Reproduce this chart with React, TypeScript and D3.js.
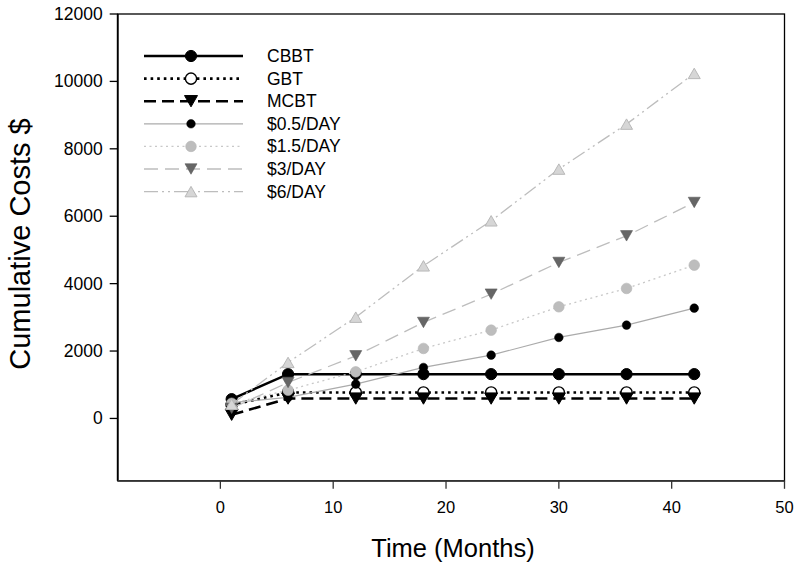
import React from "react";
import * as d3 from "d3";

const months = [1, 6, 12, 18, 24, 30, 36, 42];
const cbbt = [573, 1315, 1315, 1315, 1315, 1315, 1315, 1315];
const gbt = [400, 771, 771, 771, 771, 771, 771, 771];
const mcbt = [110, 590, 590, 590, 590, 590, 590, 590];
const day05 = [470, 623, 1018, 1513, 1878, 2403, 2769, 3273];
const day15 = [450, 840, 1383, 2077, 2620, 3312, 3857, 4549];
const day3 = [300, 1068, 1858, 2849, 3688, 4629, 5418, 6409];
const day6 = [420, 1662, 3005, 4528, 5864, 7398, 8733, 10237];
const xTicks = [0, 10, 20, 30, 40, 50];
const yTicks = [0, 2000, 4000, 6000, 8000, 10000, 12000];
const seriesNames = ["CBBT", "GBT", "MCBT", "$0.5/DAY", "$1.5/DAY", "$3/DAY", "$6/DAY"];
const seriesValues = [cbbt, gbt, mcbt, day05, day15, day3, day6];

type Style = {
  stroke: string; width: number; dash: string | null;
  shape: "circle" | "down" | "up"; size: number; fill: string; mstroke: string; mwidth: number;
};
const styles: Style[] = [
  { stroke: "#000", width: 2.5, dash: null, shape: "circle", size: 5.6, fill: "#000", mstroke: "#000", mwidth: 1 },
  { stroke: "#000", width: 2.6, dash: "2.6,4", shape: "circle", size: 5.6, fill: "#fff", mstroke: "#000", mwidth: 1.4 },
  { stroke: "#000", width: 2.6, dash: "12,6", shape: "down", size: 13, fill: "#000", mstroke: "#000", mwidth: 1 },
  { stroke: "#ababab", width: 1.2, dash: null, shape: "circle", size: 4.3, fill: "#000", mstroke: "#000", mwidth: 0.5 },
  { stroke: "#c8c8c8", width: 1.3, dash: "2,3.5", shape: "circle", size: 5.3, fill: "#bdbdbd", mstroke: "#b5b5b5", mwidth: 0.6 },
  { stroke: "#bdbdbd", width: 1.3, dash: "14,7", shape: "down", size: 12, fill: "#666", mstroke: "#5a5a5a", mwidth: 0.6 },
  { stroke: "#bdbdbd", width: 1.3, dash: "14,4,2,4,2,4", shape: "up", size: 12, fill: "#d6d6d6", mstroke: "#b8b8b8", mwidth: 1 },
];

const W = 800, H = 567;
const L = 117.7, R = 784.5, T = 14, B = 480.8;

function Marker({ s, x, y }: { s: Style; x: number; y: number }) {
  if (s.shape === "circle") {
    return <circle cx={x} cy={y} r={s.size} fill={s.fill} stroke={s.mstroke} strokeWidth={s.mwidth} />;
  }
  const h = s.size * 0.87;
  const w = s.size / 2;
  const path = s.shape === "down"
    ? `M${x - w},${y - h / 2}L${x + w},${y - h / 2}L${x},${y + h / 2}Z`
    : `M${x - w},${y + h / 2}L${x + w},${y + h / 2}L${x},${y - h / 2}Z`;
  return <path d={path} fill={s.fill} stroke={s.mstroke} strokeWidth={s.mwidth} strokeLinejoin="round" />;
}

export default function App() {
  const x = d3.scaleLinear().domain([-9.1, 50]).range([L, R]);
  const y = d3.scaleLinear().domain([-1850, 12000]).range([B, T]);
  const line = d3.line<[number, number]>().x((d) => x(d[0])).y((d) => y(d[1]));
  const font = "Arial, 'Liberation Sans', Helvetica, sans-serif";

  return (
    <svg width={W} height={H} style={{ position: "absolute", left: 0, top: 0, background: "#fff" }} fontFamily={font}>
      <rect x={0} y={0} width={W} height={H} fill="#fff" />
      {/* frame */}
      <rect x={L} y={T} width={R - L} height={B - T} fill="none" stroke="#000" strokeWidth={1.3} />
      <line x1={L} x2={L} y1={T} y2={B} stroke="#000" strokeWidth={1.8} />
      <line x1={L} x2={R} y1={B} y2={B} stroke="#333" strokeWidth={1.8} />
      {/* y ticks */}
      {yTicks.map((t) => (
        <g key={"y" + t}>
          <line x1={L - 8} x2={L} y1={y(t)} y2={y(t)} stroke="#000" strokeWidth={1.3} />
          <text x={L - 15} y={y(t)} textAnchor="end" dominantBaseline="central" fontSize={17.5}>{t}</text>
        </g>
      ))}
      {/* x ticks */}
      {xTicks.map((t) => (
        <g key={"x" + t}>
          <line x1={x(t)} x2={x(t)} y1={B} y2={B + 8} stroke="#333" strokeWidth={1.3} />
          <text x={x(t)} y={513} textAnchor="middle" fontSize={16.5}>{t}</text>
        </g>
      ))}
      <text x={453} y={557} textAnchor="middle" fontSize={25.5}>Time (Months)</text>
      <text transform={`translate(30,244) rotate(-90)`} textAnchor="middle" fontSize={29}>Cumulative Costs $</text>
      {/* series */}
      {seriesValues.map((vals, i) => {
        const s = styles[i];
        const pts = months.map((m, j) => [m, vals[j]] as [number, number]);
        return (
          <g key={"s" + i}>
            <path d={line(pts) || ""} fill="none" stroke={s.stroke} strokeWidth={s.width}
              strokeDasharray={s.dash || undefined} />
            {pts.map((p, j) => <Marker key={j} s={s} x={x(p[0])} y={y(p[1])} />)}
          </g>
        );
      })}
      {/* legend */}
      {seriesNames.map((name, i) => {
        const s = styles[i];
        const ly = 56 + i * 22.6;
        return (
          <g key={"l" + i}>
            <line x1={144} x2={243} y1={ly} y2={ly} stroke={s.stroke} strokeWidth={s.width}
              strokeDasharray={s.dash || undefined} />
            <Marker s={s} x={191} y={ly} />
            <text x={267} y={ly} dominantBaseline="central" fontSize={17.5}>{name}</text>
          </g>
        );
      })}
    </svg>
  );
}
